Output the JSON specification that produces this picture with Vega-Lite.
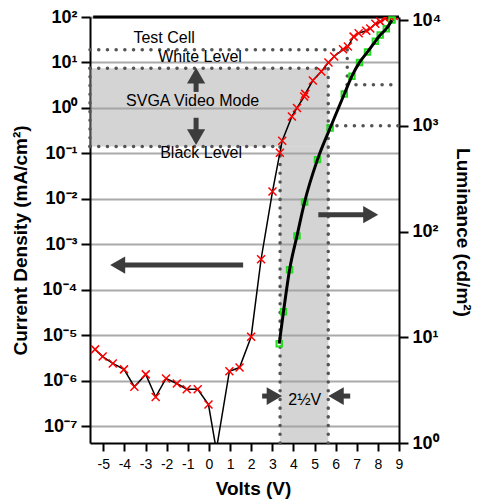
{
  "$schema": "https://vega.github.io/schema/vega-lite/v6.json",
  "width": 309,
  "height": 426,
  "autosize": {"type": "none"},
  "padding": {"left": 90, "top": 17, "right": 81, "bottom": 59},
  "config": {"view": {"stroke": null}, "font": "Liberation Sans", "background": "white", "axis": {"labelOverlap": false, "labelFlush": false, "labelBound": false}, "axisX": {"labelOverlap": false}, "axisQuantitative": {"labelOverlap": false}},
  "datasets": {
    "box": [
      {"V": -5.63, "V2": 5.65, "J": 0.142, "J2": 7.5},
      {"V": 3.37, "V2": 5.65, "J": 4.27e-8, "J2": 0.142}
    ],
    "dots": [
      {"V": -5.63, "V2": 6.55, "J": 19, "J2": 19},
      {"V": 6.55, "V2": 6.55, "J": 19, "J2": 3.21},
      {"V": -5.63, "V2": 5.65, "J": 7.5, "J2": 7.5},
      {"V": -5.63, "V2": 3.37, "J": 0.142, "J2": 0.142},
      {"V": -5.63, "V2": -5.63, "J": 0.142, "J2": 7.5},
      {"V": 3.37, "V2": 3.37, "J": 4.27e-8, "J2": 0.142},
      {"V": 5.65, "V2": 5.65, "J": 4.27e-8, "J2": 7.5}
    ],
    "lumdots": [
      {"V": 5.65, "V2": 9, "L": 1000},
      {"V": 6.55, "V2": 9, "L": 2450}
    ],
    "current": [
      {"V": -5.39, "J": 4.9e-6},
      {"V": -5.03, "J": 3.4e-6},
      {"V": -4.55, "J": 2.4e-6},
      {"V": -4.02, "J": 1.78e-6},
      {"V": -3.53, "J": 7.4e-7},
      {"V": -2.99, "J": 1.38e-6},
      {"V": -2.52, "J": 4.4e-7},
      {"V": -2.03, "J": 1.12e-6},
      {"V": -1.52, "J": 8.7e-7},
      {"V": -1.05, "J": 6.5e-7},
      {"V": -0.53, "J": 6.5e-7},
      {"V": -0.02, "J": 3.0e-7},
      {"V": 0.35, "J": 3.0e-8},
      {"V": 0.97, "J": 1.62e-6},
      {"V": 1.45, "J": 1.95e-6},
      {"V": 2.0, "J": 9.3e-6},
      {"V": 2.47, "J": 4.7e-4},
      {"V": 3.01, "J": 1.45e-2},
      {"V": 3.36, "J": 0.103},
      {"V": 3.47, "J": 0.19},
      {"V": 3.93, "J": 0.65},
      {"V": 4.17, "J": 1.0},
      {"V": 4.51, "J": 1.78},
      {"V": 4.56, "J": 2.04},
      {"V": 4.92, "J": 4.0},
      {"V": 5.32, "J": 6.3},
      {"V": 5.66, "J": 10},
      {"V": 5.93, "J": 13.5},
      {"V": 6.35, "J": 19.5},
      {"V": 6.58, "J": 22.4},
      {"V": 6.85, "J": 37},
      {"V": 7.09, "J": 44},
      {"V": 7.45, "J": 50},
      {"V": 7.64, "J": 56},
      {"V": 7.88, "J": 71},
      {"V": 8.11, "J": 79},
      {"V": 8.35, "J": 93},
      {"V": 8.59, "J": 100},
      {"V": 8.75, "J": 105}
    ],
    "lum": [
      {"V": 3.33, "L": 8.7},
      {"V": 3.53, "L": 17.4},
      {"V": 3.82, "L": 43.6},
      {"V": 4.17, "L": 91},
      {"V": 4.53, "L": 190},
      {"V": 5.14, "L": 479},
      {"V": 5.74, "L": 955},
      {"V": 6.41, "L": 2000},
      {"V": 6.77, "L": 2950},
      {"V": 7.13, "L": 3980},
      {"V": 7.51, "L": 5000},
      {"V": 7.88, "L": 6300},
      {"V": 8.11, "L": 7240},
      {"V": 8.4, "L": 8300},
      {"V": 8.67, "L": 10000}
    ],
    "stems": [
      {"V": -4.32, "V2": 1.62, "J": 3.5e-4, "J2": 3.5e-4},
      {"V": 5.18, "V2": 7.66, "J": 4.5e-3, "J2": 4.5e-3},
      {"V": -0.607, "V2": -0.607, "J": 5.16, "J2": 2.25},
      {"V": -0.607, "V2": -0.607, "J": 0.607, "J2": 0.2275},
      {"V": 2.52, "V2": 3.1, "J": 4.6e-7, "J2": 4.6e-7},
      {"V": 6.02, "V2": 6.69, "J": 4.6e-7, "J2": 4.6e-7}
    ],
    "heads": [
      {"V": -4.32, "J": 3.5e-4, "dir": "left", "kind": "big"},
      {"V": 7.66, "J": 4.5e-3, "dir": "right", "kind": "big"},
      {"V": -0.607, "J": 5.16, "dir": "up", "kind": "small"},
      {"V": -0.607, "J": 0.2275, "dir": "down", "kind": "small"},
      {"V": 3.1, "J": 4.6e-7, "dir": "right", "kind": "mid"},
      {"V": 6.02, "J": 4.6e-7, "dir": "left", "kind": "mid"}
    ],
    "texts": [
      {"V": -2.12, "J": 34.6, "label": "Test Cell"},
      {"V": -0.42, "J": 13.2, "label": "White Level"},
      {"V": -0.77, "J": 1.43, "label": "SVGA Video Mode"},
      {"V": -0.37, "J": 0.103, "label": "Black Level"},
      {"V": 4.54, "J": 3.7e-7, "label": "2½V"}
    ]
  },
  "encoding": {
    "x": {"field": "V", "type": "quantitative", "scale": {"domain": [-5.63, 9], "nice": false, "zero": false},
      "axis": {"values": [-5,-4,-3,-2,-1,0,1,2,3,4,5,6,7,8,9], "labelExpr": "datum.value < 0 ? '-' + abs(datum.value) : '' + datum.value", "labelFontSize": 14, "labelColor": "black", "labelPadding": 6, "labelFlush": false, "labelOverlap": false, "labelSeparation": 0, "tickSize": 8, "tickWidth": 2, "tickColor": "black", "domainColor": "black", "domainWidth": 2, "grid": false, "title": "Volts (V)", "titleFontSize": 19, "titleFontWeight": "bold", "titleColor": "black", "titleX": 163, "titleY": 45, "titleAlign": "center", "titleBaseline": "middle"}}
  },
  "layer": [
    {
      "layer": [
        {
          "data": {"name": "box"},
          "mark": {"type": "rect", "fill": "#a0a0a0", "opacity": 0.45},
          "encoding": {
            "x2": {"field": "V2"},
            "y": {"field": "J", "type": "quantitative", "scale": {"type": "log", "domain": [4.27e-8, 100], "nice": false},
              "axis": {"orient": "left", "values": [1e-7,1e-6,1e-5,1e-4,1e-3,1e-2,1e-1,1,10,100], "labelExpr": "['10⁻⁷','10⁻⁶','10⁻⁵','10⁻⁴','10⁻³','10⁻²','10⁻¹','10⁰','10¹','10²'][round(log(datum.value)/LN10)+7]", "labelFontSize": 18, "labelFontWeight": "bold", "labelColor": "black", "labelPadding": 4, "labelFlush": false, "labelOverlap": false, "tickSize": 9, "tickWidth": 2, "tickColor": "black", "domainColor": "black", "domainWidth": 2, "grid": true, "gridColor": "#aaaaaa", "gridWidth": 2, "title": "Current Density (mA/cm²)", "titleFontSize": 19, "titleFontWeight": "bold", "titleColor": "black", "titleX": -70, "titleY": 223, "titleAngle": -90, "titleAlign": "center", "titleBaseline": "middle"}},
            "y2": {"field": "J2"}
          }
        },
        {
          "data": {"name": "dots"},
          "mark": {"type": "rule", "color": "#555555", "strokeWidth": 3.5, "strokeDash": [0.1, 8.6], "strokeCap": "round"},
          "encoding": {
            "x2": {"field": "V2"},
            "y": {"field": "J", "type": "quantitative", "scale": {"type": "log", "domain": [4.27e-8, 100], "nice": false}},
            "y2": {"field": "J2"}
          }
        },
        {
          "data": {"values": [{"V": -5.48, "V2": 9, "J": 100}]},
          "mark": {"type": "rule", "color": "black", "strokeWidth": 3},
          "encoding": {
            "x2": {"field": "V2"},
            "y": {"field": "J", "type": "quantitative", "scale": {"type": "log", "domain": [4.27e-8, 100], "nice": false}}
          }
        },
        {
          "data": {"name": "current"},
          "mark": {"type": "line", "color": "black", "strokeWidth": 1.5, "clip": true},
          "encoding": {
            "y": {"field": "J", "type": "quantitative", "scale": {"type": "log", "domain": [4.27e-8, 100], "nice": false}}
          }
        },
        {
          "data": {"name": "current"},
          "mark": {"type": "point", "shape": "M-1,-1L1,1M-1,1L1,-1", "filled": false, "color": "#ff0000", "strokeWidth": 1.5, "size": 64, "opacity": 1, "clip": true},
          "encoding": {
            "y": {"field": "J", "type": "quantitative", "scale": {"type": "log", "domain": [4.27e-8, 100], "nice": false}}
          }
        },
        {
          "data": {"name": "stems"},
          "mark": {"type": "rule", "color": "#3c3c3c", "strokeWidth": 5},
          "encoding": {
            "x2": {"field": "V2"},
            "y": {"field": "J", "type": "quantitative", "scale": {"type": "log", "domain": [4.27e-8, 100], "nice": false}},
            "y2": {"field": "J2"}
          }
        },
        {
          "data": {"name": "heads"},
          "mark": {"type": "point", "filled": true, "color": "#3c3c3c", "opacity": 1},
          "encoding": {
            "y": {"field": "J", "type": "quantitative", "scale": {"type": "log", "domain": [4.27e-8, 100], "nice": false}},
            "shape": {"field": "dir", "type": "nominal", "scale": {"domain": ["left", "right", "up", "down"], "range": ["triangle-left", "triangle-right", "triangle-up", "triangle-down"]}, "legend": null},
            "size": {"field": "kind", "type": "nominal", "scale": {"domain": ["big", "mid", "small"], "range": [300, 330, 170]}, "legend": null}
          }
        },
        {
          "data": {"name": "texts"},
          "mark": {"type": "text", "fontSize": 16, "color": "black", "align": "center", "baseline": "middle"},
          "encoding": {
            "y": {"field": "J", "type": "quantitative", "scale": {"type": "log", "domain": [4.27e-8, 100], "nice": false}},
            "text": {"field": "label"}
          }
        }
      ]
    },
    {
      "layer": [
        {
          "data": {"name": "lumdots"},
          "mark": {"type": "rule", "color": "#555555", "strokeWidth": 3.5, "strokeDash": [0.1, 8.6], "strokeCap": "round"},
          "encoding": {
            "x2": {"field": "V2"},
            "y": {"field": "L", "type": "quantitative", "scale": {"type": "log", "domain": [1, 10700], "nice": false},
              "axis": {"orient": "right", "values": [1, 10, 100, 1000, 10000], "labelExpr": "['10⁰','10¹','10²','10³','10⁴'][round(log(datum.value)/LN10)]", "labelFontSize": 18, "labelFontWeight": "bold", "labelColor": "black", "labelPadding": 4, "labelFlush": false, "labelOverlap": false, "tickSize": 9, "tickWidth": 2, "tickColor": "black", "domainColor": "black", "domainWidth": 2, "grid": false, "title": "Luminance (cd/m²)", "titleFontSize": 19, "titleFontWeight": "bold", "titleColor": "black", "titleX": 63, "titleY": 215, "titleAngle": 90, "titleAlign": "center", "titleBaseline": "middle"}}
          }
        },
        {
          "data": {"name": "lum"},
          "mark": {"type": "point", "shape": "square", "filled": false, "color": "#22dd22", "strokeWidth": 2, "size": 30, "opacity": 1},
          "encoding": {
            "y": {"field": "L", "type": "quantitative", "scale": {"type": "log", "domain": [1, 10700], "nice": false}}
          }
        },
        {
          "data": {"name": "lum"},
          "mark": {"type": "line", "color": "black", "strokeWidth": 3, "interpolate": "monotone"},
          "encoding": {
            "y": {"field": "L", "type": "quantitative", "scale": {"type": "log", "domain": [1, 10700], "nice": false}}
          }
        }
      ]
    }
  ],
  "resolve": {"scale": {"y": "independent"}}
}
